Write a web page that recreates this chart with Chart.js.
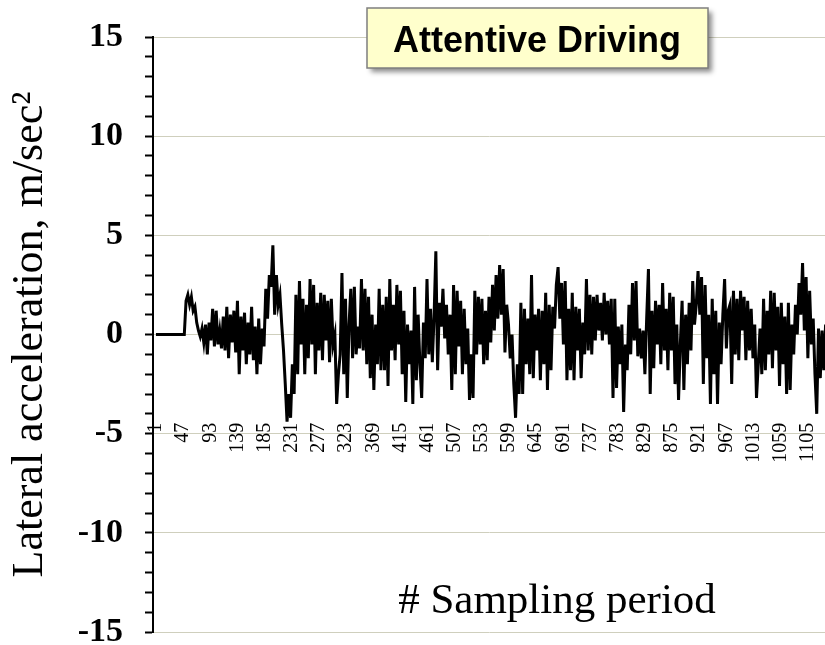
<!DOCTYPE html>
<html>
<head>
<meta charset="utf-8">
<script src="https://cdn.jsdelivr.net/npm/chart.js@4.4.0/dist/chart.umd.min.js"></script>
<style>
  html, body { margin: 0; padding: 0; background: #fff; }
  #wrap { width: 825px; height: 645px; }
</style>
</head>
<body>
<div id="wrap"><canvas id="accelChart" width="825" height="645"></canvas></div>
<script>
// Lateral acceleration, one value every 3 samples
const sampleStep = 3;
const lateralAccel = [
  0, 0, 0, 0, 0, 0, 0, 0, 0, 0, 0, 0, 0, 0, 0, 0, 0,
  1.7, 2.0, 1.5, 1.9, 1.2, 1.4, 0.6, 0.2, -0.1, 0.3, -0.4, 0.5, -1.0, 0.6, -0.3, 1.3,
  -0.6, 1.2, -0.5, 0.2, -0.7, 0.9, -0.8, 1.4, -1.2, 1.0, -0.4, 1.2, -0.9, 1.7, -2.0, 0.9,
  -0.8, 1.1, -1.5, 0.6, -1.0, 1.4, -1.3, 0.4, -2.0, 0.8, -1.5, 0.3, -0.6, 2.3, 0.8, 3.0,
  2.4, 4.5, 1.0, 3.0, 1.5, 2.0, 0.5, -0.8, -2.5, -4.4, -3.0, -4.2, -1.5, -3.0, 2.0, -2.0,
  2.7, -0.5, 1.8, -2.0, 1.5, -1.2, 2.8, -0.5, 2.5, -2.0, 1.6, -0.8, 2.1, -1.3, 2.0, -0.3,
  1.7, -1.4, 1.8, -0.5, 0.0, -3.5, -2.0, -1.0, 3.1, -2.0, 1.8, -3.2, 0.5, 2.3, -1.2, 2.4,
  -1.0, 0.4, -0.7, 2.8, -0.8, 2.3, -1.5, 1.9, -2.2, 1.0, -2.8, 0.5, -1.5, 2.3, -1.8, 1.5,
  -1.8, 1.9, -2.6, 2.8, -0.8, 1.5, -1.3, 2.5, -0.5, 2.2, -2.0, 1.2, -3.4, 0.5, -1.5, 0.2,
  -3.5, 2.4, -2.3, 1.0, -1.5, -3.2, 0.6, -1.2, 2.8, -1.0, 1.3, -1.4, 0.9, 4.2, -1.8, 1.6,
  0.4, 2.3, -0.2, 1.5, -1.0, 1.0, -2.8, 2.5, -2.0, 2.2, -0.6, 1.7, -2.0, 1.3, -1.5, 0.3,
  -3.3, -1.0, -3.2, 2.2, -1.0, 1.9, -0.5, 1.8, -1.5, 1.2, -1.3, 1.9, -0.4, 2.5, 0.2, 3.0, 0.8,
  3.5, 1.0, 3.3, -0.9, 1.5, 0.5, -1.2, 0.0, -2.5, -4.2, -1.5, -3.0, 1.6, -3.0, 1.3, -1.5,
  0.8, -2.0, 3.0, -2.2, 1.0, -0.8, 1.3, -2.3, 1.2, -1.5, 2.1, -2.8, 1.5, -1.8, 1.4, 0.3,
  2.5, 3.4, 0.8, 2.6, -0.5, 2.7, -2.3, 1.3, -1.8, 2.1, -2.3, 1.4, -0.8, 1.3, -2.2, 0.6,
  -1.0, 2.8, -0.8, 2.0, -1.0, 1.9, -0.3, 2.0, 0.2, 1.6, -0.3, 2.1, 0.0, 1.7, -0.5, 1.8, -3.2,
  1.8, -2.7, 0.4, -1.5, 0.5, -3.9, -0.5, -1.8, 1.5, -1.0, 2.6, -0.3, 2.7, -1.1, 0.3, -1.2,
  0.2, -2.0, 0.8, 3.3, -3.0, 1.2, -1.7, 1.7, -0.5, 1.5, -1.5, 2.6, -0.8, 1.3, -1.8, 2.1,
  -0.8, 1.9, -2.5, 0.5, -3.3, -0.5, 1.7, -2.8, 1.0, -1.5, 1.6, -0.8, 2.7, 0.5, 1.5, 3.2,
  1.0, 2.9, -2.5, 2.5, -1.2, 1.0, -3.5, 1.8, -2.0, 1.2, -3.5, 0.6, -1.5, 1.0, 2.8, -0.7, 1.2,
  1.5, -2.5, 2.2, -1.0, 1.8, -1.3, 2.2, 0.2, 1.9, -1.3, 1.7, -0.8, 1.3, -1.2, 0.5, -3.2,
  -1.5, 0.3, -2.0, 1.8, -1.8, 1.2, -1.0, 2.2, -1.7, 2.1, -0.8, 1.4, -2.6, 1.6, -1.5, 0.9,
  -3.0, 1.6, -2.8, 0.5, -1.0, 1.5, 0.0, 2.6, 1.0, 3.6, 0.2, 2.9, -1.2, 2.2, -0.5, 0.8,
  -2.0, -4.0, 0.3, -2.2, 0.2, -1.8, 0.5
];

// x tick labels (sampling period numbers)
const tickLabels = [1, 47, 93, 139, 185, 231, 277, 323, 369, 415, 461, 507, 553, 599, 645,
  691, 737, 783, 829, 875, 921, 967, 1013, 1059, 1105];

const boxTitle = 'Attentive Driving';
const xTitle = '# Sampling period';
const yTitle = 'Lateral acceleration, m/sec\u00b2';

const points = lateralAccel.map((v, i) => ({ x: 1 + i * sampleStep, y: v }));

// titled box + x label drawn on top
const overlayPlugin = {
  id: 'overlay',
  afterDraw(chart) {
    const ctx = chart.ctx;
    ctx.save();
    // title box with shadow
    ctx.shadowColor = 'rgba(0,0,0,0.45)';
    ctx.shadowBlur = 5;
    ctx.shadowOffsetX = 4;
    ctx.shadowOffsetY = 4;
    ctx.fillStyle = '#ffffcc';
    ctx.fillRect(367, 8, 341, 60);
    ctx.shadowColor = 'transparent';
    ctx.strokeStyle = '#7f7f7f';
    ctx.lineWidth = 1.5;
    ctx.strokeRect(367, 8, 341, 60);
    ctx.fillStyle = '#000';
    ctx.font = 'bold 36px "Liberation Sans", Arial, sans-serif';
    ctx.textAlign = 'center';
    ctx.textBaseline = 'alphabetic';
    ctx.fillText(boxTitle, 537, 52);

    ctx.font = '43px "Liberation Serif", "Times New Roman", serif';
    ctx.fillText(xTitle, 557, 613);
    ctx.restore();
  }
};

const noPad = (scale) => {
  scale.paddingTop = 0;
  scale.paddingBottom = 0;
  scale.paddingLeft = 0;
  scale.paddingRight = 0;
};

new Chart(document.getElementById('accelChart'), {
  type: 'line',
  data: {
    datasets: [{
      data: points,
      borderColor: '#000',
      borderWidth: 3,
      pointRadius: 0,
      tension: 0,
      fill: false
    }]
  },
  options: {
    responsive: false,
    animation: false,
    layout: { padding: { top: 37, bottom: 13, left: 0, right: 0 } },
    plugins: { legend: { display: false }, tooltip: { enabled: false } },
    scales: {
      x: {
        type: 'linear',
        position: { y: -5 },
        min: -4,
        max: 1134,
        afterBuildTicks: (scale) => {
          scale.ticks = tickLabels.map(v => ({ value: v }));
        },
        afterFit: (scale) => { scale.height = 0; noPad(scale); },
        grid: { display: false, drawTicks: false },
        border: { display: false },
        ticks: {
          autoSkip: false,
          minRotation: 90,
          maxRotation: 90,
          padding: -11,
          color: '#000',
          font: { family: '"Liberation Serif", "Times New Roman", serif', size: 20 },
          callback: (v) => String(v)
        }
      },
      y: {
        min: -15,
        max: 15,
        afterFit: (scale) => { scale.width = 153; noPad(scale); },
        afterBuildTicks: (scale) => {
          const t = [];
          for (let v = -15; v <= 15; v++) t.push({ value: v });
          scale.ticks = t;
        },
        grid: {
          color: (c) => (c.tick && c.tick.value % 5 === 0) ? '#cfcfbd' : 'rgba(0,0,0,0)',
          lineWidth: 1,
          tickColor: '#000',
          tickWidth: 2,
          tickLength: 8
        },
        border: { color: '#000', width: 2 },
        ticks: {
          autoSkip: false,
          padding: 22,
          color: '#000',
          font: { family: '"Liberation Serif", "Times New Roman", serif', size: 34, weight: 'bold', lineHeight: 0.8 },
          callback: (v) => (v % 5 === 0 ? String(v) : '')
        },
        title: {
          display: true,
          text: yTitle,
          color: '#000',
          padding: { top: 4, bottom: 0 },
          font: { family: '"Liberation Serif", "Times New Roman", serif', size: 44 }
        }
      }
    }
  },
  plugins: [overlayPlugin]
});
</script>
</body>
</html>
